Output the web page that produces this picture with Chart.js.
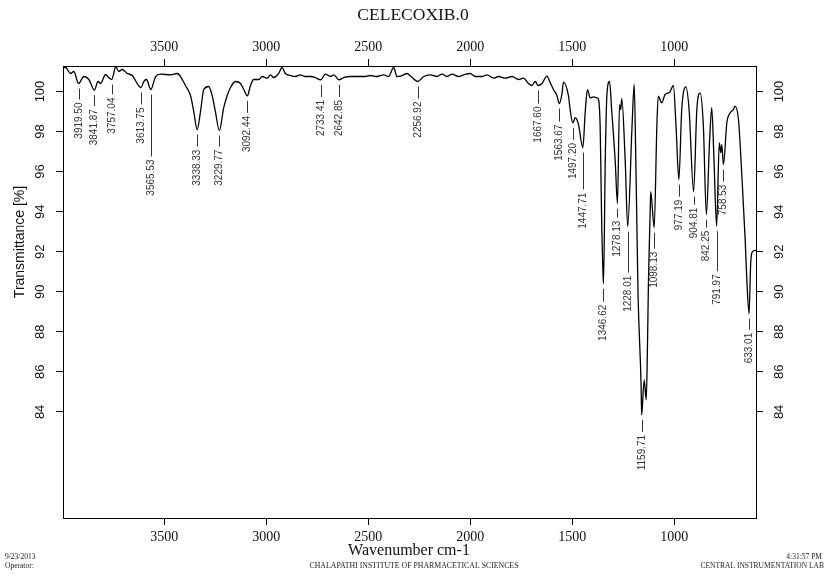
<!DOCTYPE html>
<html>
<head>
<meta charset="utf-8">
<title>CELECOXIB.0</title>
<script src="https://cdn.jsdelivr.net/npm/chart.js@4.4.1/dist/chart.umd.min.js"></script>
<style>
  html, body { margin: 0; padding: 0; background: #fff; }
  #wrap { width: 826px; height: 576px; }
</style>
</head>
<body>
<div id="wrap"><canvas id="ir" width="826" height="576"></canvas></div>
<script>
// spectre : nombre d'onde (cm-1) et transmittance (%)
const wavenumbers = [
  3996, 3983, 3959, 3943, 3919.5, 3894, 3869, 3841.87, 3825, 3812, 3787, 3772, 3757.04, 3745, 3738,
  3722, 3706, 3681, 3657, 3613.75, 3600, 3587, 3565.53, 3542, 3518, 3469, 3436, 3420, 3396, 3371,
  3355, 3338.33, 3322, 3306, 3282, 3265, 3249, 3229.77, 3208, 3191, 3175, 3151, 3126, 3110, 3092.44,
  3077, 3061, 3036, 3020, 2995, 2979, 2963, 2939, 2922, 2906, 2881, 2857, 2832, 2808, 2783, 2759,
  2733.41, 2710, 2685, 2669, 2642.85, 2620, 2587, 2555, 2522, 2489, 2457, 2424, 2400, 2375, 2359,
  2334, 2310, 2290, 2256.92, 2228, 2196, 2163, 2138, 2114, 2089, 2057, 2032, 2000, 1975, 1942, 1918,
  1885, 1861, 1828, 1795, 1763, 1739, 1714, 1698, 1681, 1667.6, 1648, 1624, 1608, 1592, 1575,
  1563.67, 1550, 1543, 1518, 1510, 1497.2, 1485, 1469, 1447.71, 1436, 1425, 1412, 1396, 1379, 1371,
  1363, 1360, 1355, 1350, 1346.62, 1338, 1330, 1317, 1306, 1289, 1278.13, 1268, 1262, 1257, 1240,
  1228.01, 1207, 1196, 1188, 1177, 1162, 1159.71, 1147, 1137, 1131, 1126, 1118, 1115, 1098.13,
  1085, 1078, 1061, 1045, 1028, 1020, 1004, 991, 977.19, 963, 943, 927, 904.81, 889, 873, 857,
  842.25, 827, 816, 805, 791.97, 779, 772, 767, 758.53, 742, 726, 710, 702, 685, 669, 652, 644,
  633.01, 625, 617, 599
];
const transmittance = [
  101.2, 101.2, 100.9, 101.0, 100.4, 100.75, 100.6, 100.07, 100.5, 100.4, 100.85, 100.7, 100.6, 101.0, 101.25,
  101.0, 101.1, 100.9, 100.8, 100.2, 100.5, 100.6, 100.1, 100.75, 100.87, 100.83, 100.9, 100.75, 100.3, 99.8,
  99.0, 98.1, 99.0, 100.1, 100.25, 99.8, 99.0, 98.05, 99.2, 99.8, 100.2, 100.5, 100.4, 100.1, 99.78,
  100.3, 100.6, 100.6, 100.75, 100.67, 100.83, 100.7, 100.9, 101.2, 100.9, 100.8, 100.75, 100.83, 100.75, 100.75, 100.7,
  100.58, 100.87, 100.75, 100.83, 100.58, 100.7, 100.75, 100.75, 100.75, 100.8, 100.75, 100.83, 100.75, 101.2, 100.75,
  100.8, 100.9, 100.75, 100.5, 100.75, 100.83, 100.75, 100.87, 100.75, 100.87, 100.75, 100.83, 100.9, 100.75, 100.75, 100.83,
  100.67, 100.75, 100.67, 100.75, 100.6, 100.67, 100.4, 100.3, 100.5, 100.3, 100.4, 100.77, 100.45, 100.1, 99.8,
  99.4, 99.9, 100.47, 99.77, 99.1, 98.43, 98.7, 98.35, 97.2, 99.0, 100.1, 99.68, 99.73, 99.68, 99.6,
  98.27, 96.5, 93.2, 91.2, 90.4, 96.5, 99.8, 100.5, 99.0, 96.5, 94.4, 99.35, 99.1, 99.65, 96.5,
  93.25, 98.17, 100.35, 96.5, 89.8, 85.2, 83.85, 85.6, 84.6, 87.3, 90.6, 93.9, 95.0, 93.2,
  98.27, 99.77, 99.43, 99.85, 99.93, 100.0, 100.3, 98.27, 95.6, 99.1, 100.23, 99.1, 95.0, 99.1, 99.93, 98.27,
  93.85, 97.43, 99.2, 96.6, 93.27, 97.43, 96.95, 97.35, 96.35, 98.43, 98.93, 99.1, 99.27, 98.6, 95.93, 92.6, 90.6,
  88.9, 91.43, 92.0, 92.07
];

// pics annotes
const peakWn = [3919.5, 3841.87, 3757.04, 3613.75, 3565.53, 3338.33, 3229.77, 3092.44, 2733.41, 2642.85,
  2256.92, 1667.6, 1563.67, 1497.2, 1447.71, 1346.62, 1278.13, 1228.01, 1159.71, 1098.13,
  977.19, 904.81, 842.25, 791.97, 758.53, 633.01];
const peakText = ["3919.50", "3841.87", "3757.04", "3613.75", "3565.53", "3338.33", "3229.77", "3092.44", "2733.41", "2642.85",
  "2256.92", "1667.60", "1563.67", "1497.20", "1447.71", "1346.62", "1278.13", "1228.01", "1159.71", "1098.13",
  "977.19", "904.81", "842.25", "791.97", "758.53", "633.01"];
// longueur du trait sous chaque pic (px)
const leaderLen = [11, 11, 10, 12, 62, 12, 11, 12, 12, 12, 12, 13, 13, 12, 37, 13, 9, 41, 12, 16, 12, 8, 8, 40, 12, 11];

const xTicks = [3500, 3000, 2500, 2000, 1500, 1000];
const yTicks = [84, 86, 88, 90, 92, 94, 96, 98, 100];

const SERIF = '"Liberation Serif", "DejaVu Serif", serif';
const SANS = '"Liberation Sans", Arial, sans-serif';

const points = wavenumbers.map((w, i) => ({ x: w, y: transmittance[i] }));

function axeX(pos) {
  return {
    type: 'linear', position: pos, min: 599, max: 3996, reverse: true,
    afterBuildTicks: s => { s.ticks = xTicks.map(v => ({ value: v })); },
    afterFit: s => { s.height = 7; },
    ticks: { display: false },
    grid: { drawOnChartArea: false, drawTicks: true, tickLength: 7, color: '#000', lineWidth: 1 },
    border: { display: true, color: '#000', width: 1 }
  };
}
function axeY(pos) {
  return {
    type: 'linear', position: pos, min: 78.7, max: 101.275,
    afterBuildTicks: s => { s.ticks = yTicks.map(v => ({ value: v })); },
    afterFit: s => { s.width = 7; },
    ticks: { display: false },
    grid: { drawOnChartArea: false, drawTicks: true, tickLength: 7, color: '#000', lineWidth: 1 },
    border: { display: true, color: '#000', width: 1 }
  };
}

// textes : titres, graduations, annotations des pics, pied de page
const textes = {
  id: 'textes',
  afterDraw(chart) {
    const ctx = chart.ctx;
    const sx = chart.scales.x, sy = chart.scales.y;
    ctx.save();
    ctx.fillStyle = '#111';

    ctx.font = '17.5px ' + SERIF;
    ctx.textAlign = 'center';
    ctx.textBaseline = 'middle';
    ctx.fillText('CELECOXIB.0', 413, 15);

    ctx.font = '14px ' + SERIF;
    xTicks.forEach(v => {
      const px = sx.getPixelForValue(v);
      ctx.fillText(String(v), px, 47);
      ctx.fillText(String(v), px, 537);
    });

    ctx.font = '16px ' + SERIF;
    ctx.fillText('Wavenumber cm-1', 409, 551);

    ctx.font = '13px ' + SANS;
    yTicks.forEach(v => {
      const py = sy.getPixelForValue(v);
      [40, 779].forEach(px => {
        ctx.save();
        ctx.translate(px, py);
        ctx.rotate(-Math.PI / 2);
        ctx.fillText(String(v), 0, 0);
        ctx.restore();
      });
    });

    ctx.font = '14px ' + SANS;
    ctx.save();
    ctx.translate(20, 242);
    ctx.rotate(-Math.PI / 2);
    ctx.fillText('Transmittance [%]', 0, 0);
    ctx.restore();

    // annotations des pics
    ctx.font = '10px ' + SANS;
    ctx.fillStyle = '#333';
    ctx.strokeStyle = '#333';
    ctx.lineWidth = 1;
    peakWn.forEach((w, k) => {
      let best = 0;
      wavenumbers.forEach((v, i) => { if (Math.abs(v - w) < Math.abs(wavenumbers[best] - w)) best = i; });
      const px = Math.round(sx.getPixelForValue(w)) + 0.5;
      const py = sy.getPixelForValue(transmittance[best]);
      const y1 = py + 5, y2 = y1 + leaderLen[k];
      ctx.beginPath();
      ctx.moveTo(px, y1);
      ctx.lineTo(px, y2);
      ctx.stroke();
      ctx.save();
      ctx.translate(px, y2 + 3);
      ctx.rotate(-Math.PI / 2);
      ctx.textAlign = 'right';
      ctx.fillText(peakText[k], 0, 0);
      ctx.restore();
    });

    // pied de page
    ctx.fillStyle = '#222';
    ctx.font = '7.5px ' + SERIF;
    ctx.textAlign = 'left';
    ctx.fillText('9/23/2013', 5, 557);
    ctx.fillText('Operator:', 5, 566);
    ctx.textAlign = 'center';
    ctx.font = '7.8px ' + SERIF;
    ctx.fillText('CHALAPATHI INSTITUTE OF PHARMACETICAL SCIENCES', 414, 566);
    ctx.font = '7.5px ' + SERIF;
    ctx.textAlign = 'right';
    ctx.fillText('4:31:57 PM', 822, 557);
    ctx.fillText('CENTRAL INSTRUMENTATION LAB', 824, 566);
    ctx.restore();
  }
};

new Chart(document.getElementById('ir'), {
  type: 'line',
  data: {
    datasets: [{
      label: 'CELECOXIB.0',
      data: points,
      borderColor: '#000',
      borderWidth: 1.3,
      pointRadius: 0,
      cubicInterpolationMode: 'monotone',
      fill: false,
      xAxisID: 'x',
      yAxisID: 'y'
    }]
  },
  options: {
    responsive: false,
    animation: false,
    layout: { padding: { left: 56, top: 59, right: 63, bottom: 51 } },
    plugins: { legend: { display: false }, tooltip: { enabled: false }, title: { display: false } },
    scales: { x: axeX('bottom'), x2: axeX('top'), y: axeY('left'), y2: axeY('right') }
  },
  plugins: [textes]
});
</script>
</body>
</html>
